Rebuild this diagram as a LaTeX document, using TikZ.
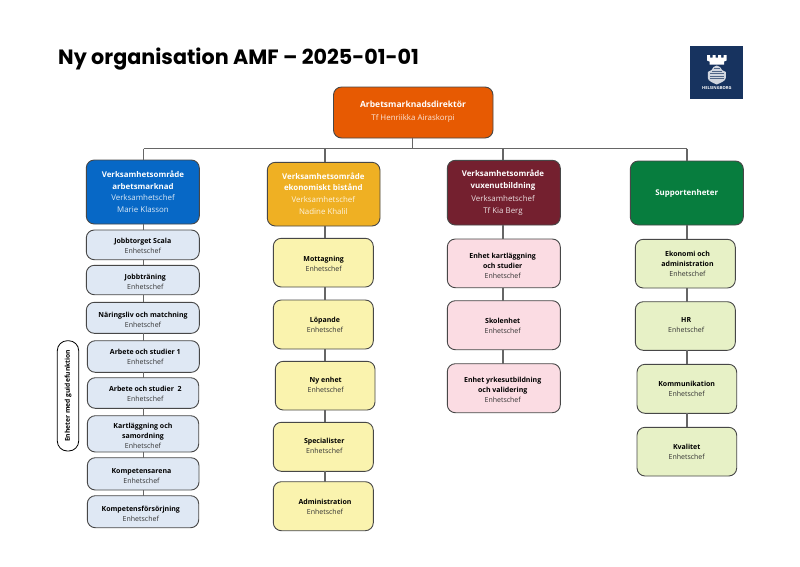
\documentclass[tikz,border=0pt]{standalone}
\usepackage{fontspec}
\setmainfont{Open Sans}
\newfontfamily\titlefont{Poppins Bold}
\usetikzlibrary{calc}
\definecolor{linegrey}{HTML}{666666}
\definecolor{cOrange}{HTML}{E75A02}
\definecolor{cBlue}{HTML}{0768C6}
\definecolor{cGold}{HTML}{EFB023}
\definecolor{cWine}{HTML}{74202F}
\definecolor{cGreen}{HTML}{077D3E}
\definecolor{cLBlue}{HTML}{DFE8F4}
\definecolor{cLYellow}{HTML}{FAF3AE}
\definecolor{cLPink}{HTML}{FBDCE3}
\definecolor{cLGreen}{HTML}{E7F1C6}
\definecolor{cLogo}{HTML}{17335F}
\newcommand{\bt}[1]{{\bfseries #1}}
\newcommand{\sub}[1]{\textcolor{black!80}{#1}}
\newcommand{\hsub}[2]{\textcolor{white!85!#1}{#2}}
\tikzset{
  x=1pt,y=-1pt,
  orgbox/.style={draw=black!72,line width=0.9pt,rounded corners=8pt,inner sep=0pt,outer sep=0pt},
  conn/.style={draw=linegrey,line width=1.2pt},
  headtext/.style={text=white,align=center,inner sep=0pt,yshift=-0.7pt,font=\fontsize{7.9}{11.6}\selectfont},
  unittext/.style={text=black,align=center,inner sep=0pt,yshift=-0.6pt,font=\fontsize{7}{10}\selectfont},
}
% #1 name, #2..#5 box corners, #6 fill, #7 text centre, #8 text
\newcommand{\hx}[8]{%
  \node[orgbox,fill=#6,minimum width={#4-#2},minimum height={#5-#3}] (#1) at ({(#2+#4)/2},{(#3+#5)/2}) {};
  \node[headtext] (#1t) at (#7) {#8};
}
\newcommand{\ux}[8]{%
  \node[orgbox,fill=#6,minimum width={#4-#2},minimum height={#5-#3}] (#1) at ({(#2+#4)/2},{(#3+#5)/2}) {};
  \node[unittext] (#1t) at (#7) {#8};
}
\begin{document}
\begin{tikzpicture}
\useasboundingbox (0,0) rectangle (800,566);
\fill[white] (0,0) rectangle (800,566);
\node[anchor=west,inner sep=0pt,font=\titlefont\fontsize{20.7}{26}\selectfont] (title) at (58,59) {Ny organisation AMF – 2025-01-01};

\coordinate (trunk) at (412.7,148.7);
\coordinate (busA) at (143.7,148.7);
\coordinate (busB) at (325,148.7);
\coordinate (busC) at (503,148.7);
\coordinate (busD) at (687,148.7);

% top
\hx{top}{333.5}{87}{493}{138}{cOrange}{413,110.7}{\fontsize{8.5}{11.6}\selectfont\bt{Arbetsmarknadsdirektör}\\[1.7pt]\hsub{cOrange}{Tf Henriikka Airaskorpi}}
% heads
\hx{hA}{86.3}{160}{199.3}{224}{cBlue}{143,191}{\bt{Verksamhetsområde}\\\bt{arbetsmarknad}\\\hsub{cBlue}{Verksamhetschef}\\\hsub{cBlue}{Marie Klasson}}
\hx{hB}{267.3}{162.3}{380}{226}{cGold}{323.3,192.8}{\bt{Verksamhetsområde}\\\bt{ekonomiskt bistånd}\\\hsub{cGold}{Verksamhetschef}\\\hsub{cGold}{Nadine Khalil}}
\hx{hC}{447.3}{160.3}{560.3}{225}{cWine}{503,192}{\bt{Verksamhetsområde}\\\bt{vuxenutbildning}\\[1.5pt]\hsub{cWine}{Verksamhetschef}\\\hsub{cWine}{Tf Kia Berg}}
\hx{hD}{630.3}{161}{743.3}{225}{cGreen}{686.7,192.3}{\bt{Supportenheter}}
% column A
\ux{a1}{86.3}{230}{199.3}{259.7}{cLBlue}{142.8,245.7}{\bt{Jobbtorget Scala}\\\sub{Enhetschef}}
\ux{a2}{86.3}{265.3}{199.3}{294.7}{cLBlue}{145.3,281.3}{\bt{Jobbträning}\\\sub{Enhetschef}}
\ux{a3}{86.3}{302.3}{199.3}{333.3}{cLBlue}{143,319}{\bt{Näringsliv och matchning}\\\sub{Enhetschef}}
\ux{a4}{87.3}{340.7}{199.3}{372.3}{cLBlue}{145.3,356.7}{\bt{Arbete och studier 1}\\\sub{Enhetschef}}
\ux{a5}{87.3}{377.7}{198.7}{408.3}{cLBlue}{145.3,393}{\bt{Arbete och studier~ 2}\\\sub{Enhetschef}}
\ux{a6}{87.3}{415.7}{198.7}{452}{cLBlue}{143,435}{\bt{Kartläggning och}\\\bt{samordning}\\\sub{Enhetschef}}
\ux{a7}{87.3}{457.7}{199}{490}{cLBlue}{141.5,475.8}{\bt{Kompetensarena}\\\sub{Enhetschef}}
\ux{a8}{87.3}{495.7}{198.7}{527.7}{cLBlue}{140.8,513.3}{\bt{Kompetensförsörjning}\\\sub{Enhetschef}}
% column B
\ux{b1}{273.3}{238.3}{373.3}{287}{cLYellow}{323.7,263.5}{\bt{Mottagning}\\\sub{Enhetschef}}
\ux{b2}{273.3}{300}{373.3}{349}{cLYellow}{325,324.3}{\bt{Löpande}\\\sub{Enhetschef}}
\ux{b3}{275.3}{361.3}{375}{410}{cLYellow}{325.7,384.7}{\bt{Ny enhet}\\\sub{Enhetschef}}
\ux{b4}{273.3}{422.3}{373.3}{471.3}{cLYellow}{324.3,445.7}{\bt{Specialister}\\\sub{Enhetschef}}
\ux{b5}{273.3}{481.7}{373.3}{530.7}{cLYellow}{325,506.5}{\bt{Administration}\\\sub{Enhetschef}}
% column C
\ux{c1}{447.3}{239}{560.3}{287.7}{cLPink}{502.7,265.3}{\bt{Enhet kartläggning}\\\bt{och studier}\\\sub{Enhetschef}}
\ux{c2}{447.3}{300.7}{560.3}{349.7}{cLPink}{502.7,325.3}{\bt{Skolenhet}\\\sub{Enhetschef}}
\ux{c3}{447.3}{363.7}{560.3}{412.7}{cLPink}{502.7,389}{\bt{Enhet yrkesutbildning}\\\bt{och validering}\\\sub{Enhetschef}}
% column D
\ux{d1}{635.3}{239.3}{735.3}{288}{cLGreen}{687.5,263.3}{\bt{Ekonomi och}\\\bt{administration}\\\sub{Enhetschef}}
\ux{d2}{635.3}{301.7}{735.3}{350.3}{cLGreen}{686.2,324.3}{\bt{HR}\\\sub{Enhetschef}}
\ux{d3}{637}{364.3}{736.7}{413.3}{cLGreen}{686.7,388.7}{\bt{Kommunikation}\\\sub{Enhetschef}}
\ux{d4}{637}{427.3}{736.7}{476}{cLGreen}{686.7,451.5}{\bt{Kvalitet}\\\sub{Enhetschef}}
% guide label
\node[draw=black,line width=0.8pt,fill=white,rounded corners=10pt,rotate=90,minimum width=110.3pt,minimum height=21.4pt,inner sep=0pt,font=\fontsize{6.7}{9}\selectfont] (guide) at (68,395.85) {\bt{Enheter med guidefunktion}};

% connectors
\draw[conn] (trunk |- top.south) -- (trunk);
\draw[conn] (busA) -- (busD);
\draw[conn] (busA) -- (busA |- hA.north);
\draw[conn] (busB) -- (busB |- hB.north);
\draw[conn] (busC) -- (busC |- hC.north);
\draw[conn] (busD) -- (busD |- hD.north);
\foreach \p/\q in {hA/a1,a1/a2,a2/a3,a3/a4,a4/a5,a5/a6,a6/a7,a7/a8}
  \draw[conn] (busA |- \p.south) -- (busA |- \q.north);
\foreach \p/\q in {hB/b1,b1/b2,b2/b3,b3/b4,b4/b5}
  \draw[conn] (busB |- \p.south) -- (busB |- \q.north);
\foreach \p/\q in {hC/c1,c1/c2,c2/c3}
  \draw[conn] (busC |- \p.south) -- (busC |- \q.north);
\foreach \p/\q in {hD/d1,d1/d2,d2/d3,d3/d4}
  \draw[conn] (busD |- \p.south) -- (busD |- \q.north);

% logo
\fill[cLogo] (690.3,46) rectangle (743.3,99);
\fill[white] (707,55) -- (710,55) -- (710,57.5) -- (712.5,57.5) -- (712.5,55) -- (715.5,55) -- (715.5,57.5) -- (718,57.5) -- (718,55) -- (721,55) -- (721,57.5) -- (723.5,57.5) -- (723.5,55) -- (726.5,55) -- (726.5,60.5) -- (724,61.5) -- (724,64.5) -- (709.5,64.5) -- (709.5,61.5) -- (707,60.5) -- cycle;
\fill[white!80!cLogo] (716.7,65.5) -- (720,67) -- (722,70) -- (725.8,72) -- (725.8,78) .. controls (725.8,81) and (720,83) .. (716.7,84.5) .. controls (713.5,83) and (707.8,81) .. (707.8,78) -- (707.8,72) -- (711.5,70) -- (713.5,67) -- cycle;
\foreach \yy/\xa/\xb in {68.5/714/719.5,71/712/721.5,73.5/710/723.5,76/710/723.5,78.5/710/723.5}
  \draw[cLogo!75!white,line width=0.5pt] (\xa,\yy) -- (\xb,\yy);
\node[text=white,inner sep=0pt,font=\bfseries\fontsize{4.1}{5}\selectfont] (logotext) at (716.8,88.4) {HELSINGBORG};
\end{tikzpicture}
\end{document}
